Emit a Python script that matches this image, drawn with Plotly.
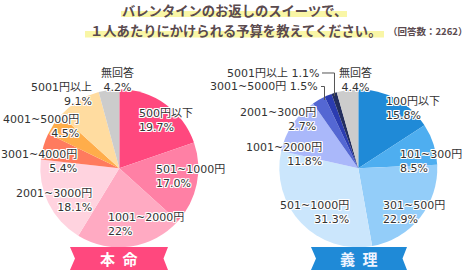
import plotly.graph_objects as go

W, H = 470, 270

# ---- data ----
honmei_labels = ["500円以下", "501~1000円", "1001~2000円", "2001~3000円",
                 "3001~4000円", "4001~5000円", "5001円以上", "無回答"]
honmei_values = [19.7, 17.0, 22, 18.1, 5.4, 4.5, 9.1, 4.2]
honmei_colors = ["#FF487E", "#FF80A5", "#FFAAC2", "#FFD3DF",
                 "#FF7B5E", "#FFAD4A", "#FFDCA0", "#CCCCCC"]

giri_labels = ["100円以下", "101~300円", "301~500円", "501~1000円",
               "1001~2000円", "2001~3000円", "3001~5000円", "5001円以上", "無回答"]
giri_values = [15.8, 8.5, 22.9, 31.3, 11.8, 2.7, 1.5, 1.1, 4.4]
giri_colors = ["#1F8AD7", "#4EAEF0", "#93CDF9", "#CBE6FC",
               "#AAB8FA", "#5467D3", "#2B3CB0", "#232E5E", "#CCCCCC"]

title_line1 = "バレンタインのお返しのスイーツで、"
title_line2 = "１人あたりにかけられる予算を教えてください。"
note_text = "（回答数：2262）"
honmei_name = "本\u2002命"
giri_name = "義\u2002理"


def px(x):
    return x / W


def py(y):
    return 1 - y / H


fig = go.Figure()
fig.add_trace(go.Pie(
    labels=honmei_labels, values=honmei_values, sort=False,
    direction="clockwise", rotation=0, textinfo="none", hoverinfo="skip",
    marker=dict(colors=honmei_colors, line=dict(width=0)),
    domain=dict(x=[px(40.3), px(198.3)], y=[py(247.3), py(89.3)]),
))
fig.add_trace(go.Pie(
    labels=giri_labels, values=giri_values, sort=False,
    direction="clockwise", rotation=0, textinfo="none", hoverinfo="skip",
    marker=dict(colors=giri_colors, line=dict(width=0)),
    domain=dict(x=[px(279.3), px(437.3)], y=[py(247.3), py(89.3)]),
))

shadow = ("1px 0px 0px white, -1px 0px 0px white, 0px 1px 0px white, 0px -1px 0px white,"
          "1px 1px 0px white, -1px -1px 0px white, 1px -1px 0px white, -1px 1px 0px white")
lab_font = dict(family="DejaVu Sans, Noto Sans CJK JP", size=11, color="#333333", shadow=shadow)

annotations = []


def pct(v):
    return f"{v}%"


honmei_pos = [(138, 120.5, "left"), (155, 176.5, "left"), (107, 224, "left"),
              (93, 200, "right"), (78, 161.5, "right"), (80, 126, "right"),
              (93, 94.5, "right"), (118, 80, "center")]
for lab, v, (x, y, a) in zip(honmei_labels, honmei_values, honmei_pos):
    annotations.append(dict(xref="paper", yref="paper", x=px(x), y=py(y),
                            xanchor=a, yanchor="middle", align=a, showarrow=False,
                            borderpad=0, text=f"{lab}<br>{pct(v)}", font=lab_font))

giri_pos = [(385, 108.5, "left", 2), (399, 161.5, "left", 2), (382, 212.5, "left", 2),
            (350, 212.5, "right", 2), (323, 154.5, "right", 2), (317, 119.5, "right", 2),
            (319, 86, "right", 1), (320, 73, "right", 1), (355, 80, "center", 2)]
for lab, v, (x, y, a, n) in zip(giri_labels, giri_values, giri_pos):
    txt = f"{lab}<br>{pct(v)}" if n == 2 else f"{lab} {pct(v)}"
    annotations.append(dict(xref="paper", yref="paper", x=px(x), y=py(y),
                            xanchor=a, yanchor="middle", align=a, showarrow=False,
                            borderpad=0, text=txt, font=lab_font))

title_font = dict(family="Noto Sans CJK JP", size=13.3, color="#5A4A4E", weight="bold")
annotations.append(dict(xref="paper", yref="paper", x=px(234), y=py(10.5),
                        xanchor="center", yanchor="middle", showarrow=False,
                        text=f"<b>{title_line1}</b>", font=title_font))
annotations.append(dict(xref="paper", yref="paper", x=px(235.5), y=py(30.5),
                        xanchor="center", yanchor="middle", showarrow=False,
                        text=f"<b>{title_line2}</b>", font=title_font))
annotations.append(dict(xref="paper", yref="paper", x=px(467), y=py(31),
                        xanchor="right", yanchor="middle", showarrow=False,
                        borderpad=0, borderwidth=0,
                        text=f"<b>{note_text}</b>",
                        font=dict(family="Noto Sans CJK JP", size=9.5, color="#5A4A4E")))

rib_font = dict(family="Noto Sans CJK JP", size=15, color="white")
annotations.append(dict(xref="paper", yref="paper", x=px(119), y=py(258.5),
                        xanchor="center", yanchor="middle", showarrow=False,
                        text=f"<b>{honmei_name}</b>", font=rib_font))
annotations.append(dict(xref="paper", yref="paper", x=px(359), y=py(258.5),
                        xanchor="center", yanchor="middle", showarrow=False,
                        text=f"<b>{giri_name}</b>", font=dict(rib_font, color="#EEF4FF")))


def path(pts):
    return "M " + " L ".join(f"{px(x):.5f},{py(y):.5f}" for x, y in pts) + " Z"


def open_path(pts):
    return "M " + " L ".join(f"{px(x):.5f},{py(y):.5f}" for x, y in pts)


shapes = [
    dict(type="rect", xref="paper", yref="paper", x0=px(121), x1=px(347), y0=py(17), y1=py(11),
         fillcolor="#F9F6A6", line=dict(width=0), layer="below"),
    dict(type="rect", xref="paper", yref="paper", x0=px(85), x1=px(384), y0=py(37.5), y1=py(31),
         fillcolor="#F9F6A6", line=dict(width=0), layer="below"),
    dict(type="path", xref="paper", yref="paper", layer="above",
         path=path([(70, 247), (168, 247), (163.5, 258.5), (168, 270), (70, 270), (75, 258.5)]),
         fillcolor="#FF487E", line=dict(width=0)),
    dict(type="path", xref="paper", yref="paper", layer="above",
         path=path([(311, 247), (407, 247), (402.5, 258.5), (407, 270), (311, 270), (316, 258.5)]),
         fillcolor="#1F8AD7", line=dict(width=0)),
    dict(type="path", xref="paper", yref="paper", layer="above",
         path=open_path([(322, 73), (334.5, 73), (334.5, 96)]),
         line=dict(color="#555555", width=1)),
    dict(type="path", xref="paper", yref="paper", layer="above",
         path=open_path([(321, 86.5), (324.5, 86.5), (324.5, 100)]),
         line=dict(color="#555555", width=1)),
]

fig.update_layout(
    width=W, height=H, margin=dict(l=0, r=0, t=0, b=0),
    paper_bgcolor="white", plot_bgcolor="white", showlegend=False,
    annotations=annotations, shapes=shapes,
)

fig.write_html("out.html")
